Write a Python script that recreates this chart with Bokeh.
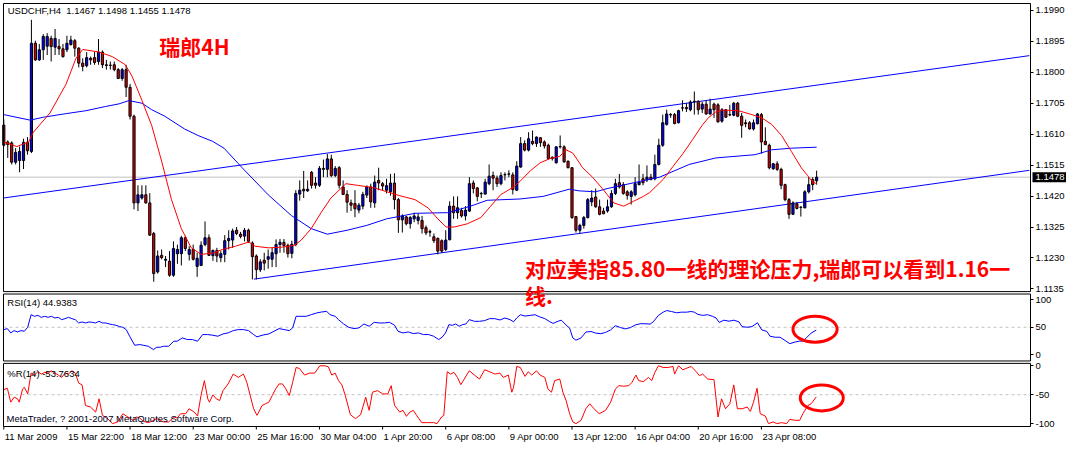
from bokeh.plotting import figure
from bokeh.models import (Range1d, LinearAxis, FixedTicker, Label, ColumnDataSource,
                          BoxAnnotation)
from bokeh.embed import file_html
from bokeh.resources import INLINE

# ---------------- data ----------------
opens = [1.1638,1.1586,1.1583,1.1524,1.1529,1.1529,1.1585,1.1557,1.1889,1.1838,
         1.1869,1.1880,1.1904,1.1877,1.1879,1.1872,1.1869,1.1885,1.1897,1.1874,
         1.1828,1.1820,1.1843,1.1845,1.1833,1.1862,1.1823,1.1822,1.1823,1.1808,
         1.1781,1.1808,1.1754,1.1665,1.1399,1.1414,1.1424,1.1399,1.1305,1.1187,
         1.1238,1.1223,1.1220,1.1177,1.1243,1.1243,1.1292,1.1241,1.1256,1.1204,
         1.1207,1.1271,1.1292,1.1237,1.1253,1.1231,1.1241,1.1283,1.1285,1.1315,
         1.1303,1.1297,1.1315,1.1276,1.1236,1.1194,1.1223,1.1226,1.1226,1.1243,
         1.1271,1.1278,1.1269,1.1244,1.1271,1.1426,1.1441,1.1436,1.1493,1.1460,
         1.1453,1.1505,1.1502,1.1534,1.1483,1.1507,1.1448,1.1425,1.1399,1.1397,
         1.1377,1.1389,1.1423,1.1448,1.1399,1.1468,1.1458,1.1438,1.1433,1.1460,
         1.1409,1.1347,1.1356,1.1335,1.1350,1.1345,1.1345,1.1323,1.1311,1.1295,
         1.1290,1.1283,1.1256,1.1286,1.1389,1.1369,1.1376,1.1359,1.1374,1.1460,
         1.1445,1.1428,1.1426,1.1458,1.1483,1.1475,1.1458,1.1486,1.1488,1.1485,
         1.1438,1.1509,1.1581,1.1561,1.1588,1.1581,1.1599,1.1586,1.1576,1.1539,
         1.1522,1.1572,1.1571,1.1527,1.1507,1.1357,1.1315,1.1330,1.1354,1.1402,
         1.1417,1.1387,1.1374,1.1374,1.1387,1.1428,1.1461,1.1455,1.1433,1.1419,
         1.1424,1.1455,1.1473,1.1470,1.1478,1.1473,1.1517,1.1576,1.1640,1.1670,
         1.1670,1.1645,1.1691,1.1692,1.1685,1.1711,1.1711,1.1687,1.1702,1.1672,
         1.1702,1.1700,1.1650,1.1685,1.1670,1.1668,1.1705,1.1665,1.1645,1.1645,
         1.1626,1.1642,1.1670,1.1588,1.1576,1.1504,1.1519,1.1502,1.1455,1.1409,
         1.1364,1.1396,1.1386,1.1384,1.1433,1.1471,1.1467]
highs = [1.1655,1.1591,1.1588,1.1567,1.1572,1.1596,1.1601,1.1961,1.1897,1.1887,
         1.1917,1.1920,1.1912,1.1933,1.1902,1.1887,1.1912,1.1912,1.1902,1.1877,
         1.1843,1.1862,1.1848,1.1862,1.1902,1.1867,1.1838,1.1833,1.1833,1.1813,
         1.1813,1.1823,1.1764,1.1670,1.1453,1.1453,1.1453,1.1429,1.1310,1.1253,
         1.1256,1.1236,1.1251,1.1281,1.1271,1.1298,1.1298,1.1266,1.1271,1.1246,
         1.1281,1.1342,1.1302,1.1256,1.1261,1.1251,1.1300,1.1315,1.1320,1.1325,
         1.1310,1.1322,1.1320,1.1281,1.1241,1.1226,1.1246,1.1256,1.1261,1.1287,
         1.1288,1.1288,1.1274,1.1283,1.1438,1.1468,1.1497,1.1468,1.1497,1.1478,
         1.1512,1.1532,1.1549,1.1547,1.1512,1.1512,1.1468,1.1438,1.1409,1.1438,
         1.1399,1.1433,1.1453,1.1458,1.1483,1.1507,1.1463,1.1473,1.1488,1.1490,
         1.1414,1.1364,1.1359,1.1359,1.1369,1.1366,1.1359,1.1330,1.1317,1.1305,
         1.1293,1.1287,1.1315,1.1404,1.1419,1.1419,1.1384,1.1389,1.1478,1.1468,
         1.1448,1.1433,1.1473,1.1517,1.1495,1.1483,1.1493,1.1493,1.1499,1.1493,
         1.1527,1.1601,1.1591,1.1616,1.1621,1.1603,1.1601,1.1591,1.1581,1.1542,
         1.1573,1.1606,1.1576,1.1529,1.1509,1.1359,1.1335,1.1359,1.1414,1.1438,
         1.1443,1.1409,1.1384,1.1409,1.1438,1.1473,1.1488,1.1463,1.1438,1.1438,
         1.1478,1.1517,1.1488,1.1514,1.1488,1.1547,1.1596,1.1670,1.1685,1.1675,
         1.1675,1.1685,1.1714,1.1705,1.1714,1.1741,1.1714,1.1709,1.1714,1.1719,
         1.1707,1.1705,1.1690,1.1687,1.1700,1.1709,1.1709,1.1675,1.1655,1.1650,
         1.1655,1.1675,1.1675,1.1631,1.1581,1.1522,1.1527,1.1507,1.1458,1.1414,
         1.1404,1.1402,1.1389,1.1438,1.1478,1.1478,1.1498]
lows = [1.1572,1.1537,1.1517,1.1517,1.1493,1.1503,1.1547,1.1552,1.1835,1.1835,
        1.1838,1.1853,1.1833,1.1853,1.1853,1.1845,1.1862,1.1882,1.1848,1.1815,
        1.1803,1.1815,1.1823,1.1823,1.1823,1.1813,1.1808,1.1808,1.1803,1.1779,
        1.1774,1.1724,1.1655,1.1379,1.1374,1.1409,1.1397,1.1298,1.1157,1.1182,
        1.1226,1.1202,1.1172,1.1172,1.1212,1.1207,1.1251,1.1222,1.1222,1.1172,
        1.1205,1.1266,1.1236,1.1221,1.1217,1.1217,1.1217,1.1256,1.1261,1.1300,
        1.1290,1.1281,1.1276,1.1164,1.1164,1.1187,1.1192,1.1197,1.1202,1.1202,
        1.1246,1.1246,1.1231,1.1229,1.1266,1.1406,1.1414,1.1433,1.1443,1.1443,
        1.1448,1.1478,1.1478,1.1478,1.1478,1.1443,1.1423,1.1369,1.1374,1.1355,
        1.1367,1.1379,1.1414,1.1384,1.1384,1.1438,1.1438,1.1428,1.1421,1.1379,
        1.1307,1.1308,1.1330,1.1320,1.1340,1.1333,1.1305,1.1300,1.1295,1.1276,
        1.1241,1.1246,1.1251,1.1284,1.1350,1.1350,1.1354,1.1345,1.1371,1.1428,
        1.1404,1.1414,1.1425,1.1453,1.1438,1.1448,1.1453,1.1468,1.1478,1.1425,
        1.1436,1.1507,1.1557,1.1557,1.1576,1.1571,1.1571,1.1566,1.1532,1.1529,
        1.1520,1.1566,1.1522,1.1505,1.1350,1.1308,1.1305,1.1320,1.1351,1.1389,
        1.1384,1.1361,1.1364,1.1369,1.1384,1.1423,1.1443,1.1424,1.1409,1.1394,
        1.1419,1.1453,1.1453,1.1463,1.1468,1.1468,1.1514,1.1571,1.1636,1.1660,
        1.1640,1.1643,1.1680,1.1678,1.1680,1.1670,1.1670,1.1675,1.1670,1.1670,
        1.1660,1.1645,1.1645,1.1660,1.1665,1.1665,1.1662,1.1599,1.1631,1.1624,
        1.1621,1.1640,1.1550,1.1576,1.1502,1.1500,1.1497,1.1441,1.1404,1.1350,
        1.1362,1.1379,1.1357,1.1382,1.1428,1.1438,1.1455]
closes = [1.1576,1.1578,1.1524,1.1554,1.1557,1.1585,1.1559,1.1889,1.1838,1.1869,
          1.1910,1.1910,1.1879,1.1904,1.1872,1.1848,1.1889,1.1899,1.1874,1.1828,
          1.1818,1.1845,1.1838,1.1830,1.1862,1.1823,1.1821,1.1821,1.1808,1.1781,
          1.1808,1.1754,1.1665,1.1399,1.1424,1.1424,1.1399,1.1300,1.1182,1.1236,
          1.1231,1.1226,1.1177,1.1259,1.1256,1.1292,1.1259,1.1256,1.1226,1.1229,
          1.1269,1.1292,1.1238,1.1253,1.1236,1.1243,1.1283,1.1290,1.1313,1.1305,
          1.1296,1.1315,1.1281,1.1234,1.1194,1.1218,1.1214,1.1234,1.1246,1.1271,
          1.1278,1.1268,1.1243,1.1272,1.1428,1.1438,1.1436,1.1441,1.1453,1.1453,
          1.1505,1.1502,1.1534,1.1483,1.1505,1.1453,1.1425,1.1401,1.1392,1.1381,
          1.1392,1.1425,1.1448,1.1402,1.1463,1.1460,1.1451,1.1452,1.1460,1.1409,
          1.1347,1.1359,1.1335,1.1354,1.1359,1.1356,1.1320,1.1307,1.1309,1.1283,
          1.1251,1.1251,1.1285,1.1389,1.1369,1.1384,1.1359,1.1377,1.1458,1.1443,
          1.1419,1.1427,1.1463,1.1481,1.1475,1.1458,1.1483,1.1485,1.1487,1.1440,
          1.1512,1.1581,1.1561,1.1596,1.1581,1.1601,1.1584,1.1574,1.1535,1.1535,
          1.1571,1.1571,1.1525,1.1507,1.1354,1.1315,1.1330,1.1354,1.1409,1.1414,
          1.1387,1.1364,1.1366,1.1387,1.1428,1.1458,1.1448,1.1428,1.1422,1.1433,
          1.1458,1.1463,1.1461,1.1478,1.1471,1.1517,1.1576,1.1645,1.1672,1.1669,
          1.1643,1.1682,1.1690,1.1688,1.1709,1.1710,1.1685,1.1702,1.1672,1.1687,
          1.1685,1.1648,1.1685,1.1662,1.1669,1.1705,1.1665,1.1637,1.1642,1.1626,
          1.1645,1.1672,1.1586,1.1578,1.1507,1.1519,1.1502,1.1453,1.1409,1.1364,
          1.1399,1.1382,1.1385,1.1433,1.1455,1.1455,1.1478]

red_ma_bar = [0,3.3,6.3,7.5,11.7,15.8,18.3,20,24.2,27.5,30.8,32.5,35,37.5,40,42.5,45,47.5,50,53,
              55.4,58.7,62.1,63.7,67.1,70.4,73.7,75.4,77.9,80.4,82.9,85.4,86.7,89.6,93.7,97.1,100.4,104.2,107.5,110,
              112.1,114.2,117.5,120.9,123.4,125.9,129.2,130.9,133.4,135.9,138.4,140.9,142.5,144.2,146.7,149.2,151.7,154.6,157.1,159.6,
              162.1,163.7,167.1,169.6,172.1,174.6,177.1,178.7,180.4,182.1,186.2,189.6,192.1,194.6,197.1,199.6,202.1,203.7,205,206]
red_ma = [1.1586,1.1572,1.1586,1.1616,1.1675,1.1764,1.1843,1.1870,1.1862,1.1848,1.1823,1.1788,1.1714,1.1636,1.1527,1.1409,1.1320,1.1261,1.1241,1.1245,
          1.1256,1.1266,1.1279,1.1266,1.1261,1.1263,1.1269,1.1285,1.1320,1.1369,1.1414,1.1443,1.1458,1.1453,1.1446,1.1433,1.1421,1.1409,1.1384,1.1350,
          1.1325,1.1325,1.1335,1.1354,1.1389,1.1424,1.1448,1.1466,1.1497,1.1522,1.1535,1.1542,1.1562,1.1552,1.1507,1.1478,1.1443,1.1399,1.1389,1.1404,
          1.1419,1.1431,1.1471,1.1511,1.1550,1.1594,1.1639,1.1662,1.1678,1.1684,1.1682,1.1670,1.1660,1.1640,1.1606,1.1557,1.1507,1.1483,1.1463,1.1458]

blue_ma_bar = [0,6.7,10,15.8,20.8,25.8,29.2,31.7,35,37.5,40.8,45.8,49.2,52.9,55.8,60.4,67,72.9,77.9,82,
               87,92,97,100.4,104.2,112.5,118.3,122.5,130.8,136.7,143.3,145.8,150,152.9,166.2,173.7,180.4,190.4,194.6,199.6,206]
blue_ma = [1.1670,1.1653,1.1662,1.1673,1.1682,1.1695,1.1703,1.1713,1.1705,1.1685,1.1665,1.1626,1.1606,1.1588,1.1567,1.1507,1.1424,1.1360,1.1320,1.1303,
           1.1315,1.1330,1.1350,1.1358,1.1367,1.1369,1.1389,1.1407,1.1411,1.1419,1.1441,1.1436,1.1433,1.1443,1.1478,1.1517,1.1537,1.1547,1.1562,1.1567,1.1570]

rsi_bar = [0.04,0.9,1.76,2.62,3.48,4.34,5.2,6.06,6.92,7.78,8.64,9.5,10.37,11.23,12.09,12.95,13.81,14.67,15.53,16.39,
           17.25,18.11,18.97,19.84,20.7,21.56,22.42,23.28,24.14,25.0,25.86,26.72,27.58,28.44,29.3,30.17,31.03,31.89,33.18,34.47,
           35.33,36.62,37.91,38.77,39.64,40.5,41.79,43.08,43.94,45.23,46.52,47.81,49.11,50.4,51.69,52.98,54.27,55.56,56.85,58.14,
           59.44,60.73,62.02,63.31,64.17,65.46,67.18,68.47,69.77,71.06,72.35,73.21,74.07,75.36,76.65,77.94,79.24,80.53,81.82,82.68,
           83.97,84.83,86.12,87.42,88.71,90.0,91.29,92.58,93.87,95.16,96.45,97.75,99.04,99.9,101.19,102.48,103.77,105.06,106.35,107.65,
           108.94,110.23,111.09,111.95,112.81,113.67,114.53,115.4,116.26,117.12,117.98,119.27,120.56,121.85,123.14,124.43,125.73,127.02,128.31,
           129.2,130,130.9,132.1,133.4,134.6,135.9,137.1,138.4,139.2,140.5,141.3,142.5,143.4,144.2,145.0,146.3,147.5,148.8,150.0,
           151.3,152.5,153.8,155.0,156.3,157.5,158.8,160.0,161.3,162.5,163.8,164.6,165.9,167.1,168.0,169.2,170.5,171.7,173.0,174.2,
           175.0,175.9,177.1,178.4,179.6,180.5,181.3,182.5,183.8,185.0,186.3,187.1,188.4,189.6,191.0,192.1,193.4,194.2,195.5,196.7,
           198.0,199.2,200.5,201.7,202.5,203.4,204.6,205.9]
rsi = [45.8,47.6,39.8,44.0,41.6,44.0,42.8,50.0,72.8,69.8,71.6,68.0,69.8,68.0,69.8,66.8,68.0,63.8,65.6,68.0,
       65.6,63.8,57.8,59.6,57.8,59.6,59.0,57.8,60.8,57.8,57.8,56.0,54.8,53.6,51.2,50.0,45.8,33.8,17.5,18.8,
       17.5,15.7,9.7,13.9,13.9,15.7,15.7,24.8,24.8,30.8,27.8,27.8,24.8,36.8,36.8,35.6,33.8,38.0,39.8,44.0,
       45.8,45.8,44.0,36.8,32.6,35.6,38.0,42.8,47.6,45.8,44.0,48.8,69.8,69.8,69.8,72.8,75.8,77.6,78.8,72.8,
       69.8,63.8,56.0,50.0,47.6,48.8,56.0,51.8,59.0,57.8,57.8,59.0,53.6,42.8,39.8,41.6,38.6,39.8,36.8,36.8,
       33.8,27.8,32.0,39.8,54.8,53.6,56.0,51.8,54.8,56.0,63.8,60.8,60.8,62.0,65.6,65.6,63.2,66.8,63.8,
       59.9,66.9,72.7,70.3,71.5,72.7,68.6,65.7,59.9,57.0,61.0,62.8,54.1,48.3,30.8,26.7,30.8,41.3,42.4,39.5,
       38.4,40.7,45.3,52.9,49.4,47.1,49.4,54.1,56.4,56.4,55.8,59.9,71.5,77.3,80.2,78.5,76.2,77.3,77.3,78.5,
       77.3,73.3,71.5,72.7,69.8,66.9,58.7,62.8,61.0,62.8,59.9,51.2,50.0,51.2,58.1,45.3,42.4,33.7,32.0,32.0,
       26.2,20.3,23.3,25.0,25.0,30.8,39.5,44.9]

wpr_bar = [0.04,0.9,1.76,2.62,3.48,3.91,4.77,5.2,6.06,6.92,7.78,8.64,9.5,10.37,11.23,12.09,12.95,13.81,14.67,15.53,
           16.39,17.25,18.11,18.97,19.84,20.7,22.0,23.28,24.14,25.0,26.29,27.58,28.87,30.17,31.46,32.75,33.61,34.47,35.33,36.62,
           37.48,38.77,39.64,40.5,41.79,43.08,43.94,44.8,46.09,46.95,48.24,49.11,49.97,50.83,51.69,52.12,52.98,53.84,54.7,55.56,
           56.85,58.14,59.44,60.73,61.59,62.45,63.31,64.17,65.46,66.32,67.18,68.04,68.91,69.77,70.63,71.49,72.35,73.21,74.07,74.93,
           76.22,77.51,78.8,80.1,81.39,82.25,83.11,83.97,84.83,85.69,86.55,87.84,89.14,90.43,91.72,92.58,93.44,94.73,96.02,97.32,
           98.18,99.04,100.33,101.19,102.05,102.91,103.77,104.63,105.92,107.65,108.94,109.8,110.92,111.52,112.38,113.24,114.1,114.96,115.83,116.69,
           117.98,119.27,120.56,121.85,123.14,124.43,125.73,126.59,127.88,128.74,
           129.2,130,130.9,132.1,132.9,133.8,135,135.9,137.1,137.9,138.8,139.6,140.9,141.7,142.5,143.4,144.2,145.0,146.3,147.5,
           148.5,149.6,150.9,152.5,153.8,155.0,155.9,157.1,158.4,159.2,160.2,160.9,162.1,163.4,164.2,165.0,165.9,167.1,168.4,169.6,
           170.0,171.0,172.1,172.9,174.2,175.5,176.3,177.1,178.4,180.0,181.0,181.9,182.9,184.0,185.0,185.9,187.1,188.4,189.2,190.0,
           190.9,191.7,193.0,193.8,195.0,195.9,197.1,198.4,199.2,200.5,201.7,202.5,203.8,204.6,205.9]
wpr = [-41.1,-38.9,-62.9,-54.3,-57.1,-62.9,-40.0,-37.1,-48.6,-12.6,-16.0,-10.3,-14.3,-11.4,-12.6,-8.6,-12.6,-16.0,-20.0,-12.6,
       -14.3,-8.6,-12.6,-29.7,-33.1,-68.6,-71.4,-80.0,-57.1,-85.7,-91.4,-100,-97.1,-82.9,-88.6,-94.3,-88.6,-90.3,-96.0,-98.3,
       -96.0,-91.4,-94.3,-97.1,-97.1,-88.6,-90.3,-82.9,-82.9,-74.3,-80.0,-86.9,-51.4,-25.7,-57.1,-62.9,-50.3,-57.1,-60.0,-42.9,
       -31.4,-14.3,-20.0,-14.3,-28.6,-51.4,-74.3,-85.7,-68.6,-65.7,-62.9,-51.4,-40.0,-31.4,-31.4,-40.0,-51.4,-28.6,-2.9,-4.6,
       -16.0,-12.6,-12.6,0,0,-1.7,-16.0,-12.6,-25.7,-33.1,-51.4,-84.6,-91.4,-84.6,-54.3,-77.1,-45.7,-42.9,-48.6,-48.6,
       -34.3,-68.6,-80.0,-77.1,-87.4,-80.0,-77.1,-85.7,-98.3,-98.3,-98.3,-100,-88.6,-85.7,-10.3,-14.3,-11.4,-20.0,-32.6,-22.9,
       -8.6,-16.0,-22.9,-6.9,-10.3,-14.3,-12.6,-20.0,-16.0,-45.7,
       -37.1,-1.1,-2.9,-18.3,-10.3,-16.0,-8.6,-16.0,-20.0,-40.0,-45.7,-25.7,-22.9,-45.7,-60.0,-82.9,-97.1,-100,-94.3,-74.3,
       -65.7,-74.3,-82.9,-77.1,-62.9,-40.0,-34.3,-35.4,-34.3,-28.6,-16.0,-25.7,-27.4,-20.0,-25.7,-11.4,0,-2.9,-2.9,-1.1,
       -14.3,0,-6.9,-4.6,-1.1,-10.3,-17.1,-14.3,-22.9,-24.0,-88.6,-57.1,-74.3,-65.7,-33.1,-74.3,-74.3,-71.4,-78.9,-62.9,
       -38.9,-82.9,-86.9,-100,-97.1,-100,-98.3,-100,-92.6,-94.3,-94.3,-82.9,-68.6,-65.7,-53.8]

channel_upper_bar = [-0.1, 259.9]
channel_upper = [1.1414, 1.1851]
channel_lower_bar = [63.4, 259.9]
channel_lower = [1.1165, 1.1499]

time_label_bars = [0, 16, 32, 48, 64, 80, 96, 112, 128, 144, 160, 176, 192]
time_labels = ["11 Mar 2009", "15 Mar 22:00", "18 Mar 12:00", "23 Mar 00:00", "25 Mar 16:00",
               "30 Mar 04:00", "1 Apr 20:00", "6 Apr 08:00", "9 Apr 00:00", "13 Apr 12:00",
               "16 Apr 04:00", "20 Apr 16:00", "23 Apr 08:00"]
price_ticks = [1.1135, 1.1230, 1.1325, 1.1420, 1.1515, 1.1610, 1.1705, 1.1800, 1.1895, 1.1990]
rsi_ticks = [100, 50, 0]
wpr_ticks = [0, -50, -100]
last_price = 1.1478
rsi_last = 44.9383
wpr_last = -53.7634

highlight_bar = [205.6, 207.3]
highlight_rsi = 46.5
highlight_wpr = -55.5

# ---------------- layout of the chart area ----------------
W, H = 1066, 443
PAD_L, PAD_R, PAD_T, PAD_B = 3, 36, 3, 17          # scale / label margins (px)
CW, CH = W - PAD_L - PAD_R, H - PAD_T - PAD_B      # chart area (px)

BAR_LO, BAR_HI = -0.075, 260.2
PRICE_LO, PRICE_HI = 1.07126, 1.20111
RSI_LO, RSI_HI = -129.4, 635.4
WPR_LO, WPR_HI = -105.0, 626.7


def extend(lo, hi, size, pad_lo, pad_hi):
    per = (hi - lo) / size
    return lo - pad_lo * per, hi + pad_hi * per


XR = extend(BAR_LO, BAR_HI, CW, PAD_L, PAD_R)
YR = extend(PRICE_LO, PRICE_HI, CH, PAD_B, PAD_T)
RR = extend(RSI_LO, RSI_HI, CH, PAD_B, PAD_T)
WR = extend(WPR_LO, WPR_HI, CH, PAD_B, PAD_T)
PRICE_PER_PX = (PRICE_HI - PRICE_LO) / CH
BAR_PER_PX = (BAR_HI - BAR_LO) / CW


def to_price(v, lo, hi):
    return PRICE_LO + (v - lo) / (hi - lo) * (PRICE_HI - PRICE_LO)


def frac_to_price(f):
    return PRICE_HI - f * (PRICE_HI - PRICE_LO)


FONT = "Liberation Sans"
FS = "9.5px"

p = figure(width=W, height=H, output_backend="svg", toolbar_location=None,
           x_range=Range1d(*XR), y_range=Range1d(*YR),
           x_axis_location=None, y_axis_location=None, min_border=0)
p.extra_y_ranges = {"rsi": Range1d(*RR), "wpr": Range1d(*WR)}
p.background_fill_color = "white"
p.border_fill_color = "white"
p.outline_line_color = None
p.xgrid.visible = False
p.ygrid.visible = False

# panel frames (main / RSI / %R) with the double separators between them
seps = [frac_to_price(f) for f in (0.6811, 0.6868, 0.8451, 0.8508)]
for top, bottom in ((PRICE_HI, seps[0]), (seps[1], seps[2]), (seps[3], PRICE_LO)):
    p.add_layout(BoxAnnotation(left=BAR_LO, right=BAR_HI, top=top, bottom=bottom,
                               fill_color=None, line_color="black", line_alpha=1.0, line_width=1))

# price scale on the right (also carries the RSI / %R scales)
tick_map = {}
for t in price_ticks:
    tick_map[t] = "%.4f" % t
for t in rsi_ticks:
    tick_map[to_price(t, RSI_LO, RSI_HI)] = str(t)
for t in wpr_ticks:
    tick_map[to_price(t, WPR_LO, WPR_HI)] = str(t)
yax = LinearAxis(fixed_location=BAR_HI, ticker=FixedTicker(ticks=list(tick_map.keys())),
                 major_label_overrides=tick_map, axis_line_color=None,
                 major_tick_line_color="black", major_tick_in=0, major_tick_out=3,
                 minor_tick_out=0, minor_tick_in=0, major_label_standoff=2,
                 major_label_text_font=FONT, major_label_text_font_size=FS,
                 major_label_text_color="black")
p.add_layout(yax, "right")

# time scale: tick marks + left-aligned labels
n_t = len(time_label_bars)
p.segment(x0=time_label_bars, x1=time_label_bars, y0=[PRICE_LO] * n_t,
          y1=[PRICE_LO - 3 * PRICE_PER_PX] * n_t, line_color="black", line_width=1)
for b, s in zip(time_label_bars, time_labels):
    p.add_layout(Label(x=b, y=PRICE_LO, y_offset=-4, text=s, x_offset=1,
                       text_font=FONT, text_font_size=FS, text_color="black",
                       text_baseline="top", text_align="left"))

# level lines
p.line([BAR_LO, BAR_HI], [last_price, last_price], line_color="#c0c0c0", line_width=1)
p.line([BAR_LO, BAR_HI], [50, 50], y_range_name="rsi", line_color="#c0c0c0",
       line_width=1, line_dash="3 3")
p.line([BAR_LO, BAR_HI], [-50, -50], y_range_name="wpr", line_color="#c0c0c0",
       line_width=1, line_dash="3 3")

# channel
p.line(channel_upper_bar, channel_upper, line_color="#0000ff", line_width=1)
p.line(channel_lower_bar, channel_lower, line_color="#0000ff", line_width=1)

# candles
bars = list(range(len(opens)))
src = ColumnDataSource(dict(
    x=bars, h=highs, l=lows,
    top=[max(o, c) for o, c in zip(opens, closes)],
    bot=[min(o, c) for o, c in zip(opens, closes)],
    color=["#0000ff" if c >= o else "#e00000" for o, c in zip(opens, closes)]))
p.segment(x0="x", y0="l", x1="x", y1="h", source=src, line_color="black", line_width=1)
p.vbar(x="x", width=0.55, top="top", bottom="bot", fill_color="color",
       line_color="black", line_width=1, source=src)

# moving averages
p.line(blue_ma_bar, blue_ma, line_color="#0000ff", line_width=1)
p.line(red_ma_bar, red_ma, line_color="#ff0000", line_width=1)

# indicators
p.line(rsi_bar, rsi, y_range_name="rsi", line_color="#0000ff", line_width=1)
p.line(wpr_bar, wpr, y_range_name="wpr", line_color="#ff0000", line_width=1)

# hand-drawn highlight circles
p.ellipse(x=[highlight_bar[0]], y=[highlight_rsi], width=11.2, height=47, y_range_name="rsi",
          fill_color=None, line_color="#ff0000", line_width=3)
p.ellipse(x=[highlight_bar[1]], y=[highlight_wpr], width=10.9, height=45, y_range_name="wpr",
          fill_color=None, line_color="#ff0000", line_width=3)

# texts
p.add_layout(Label(x=1.0, y=1.19889, text="USDCHF,H4\u00a0\u00a01.1467 1.1498 1.1455 1.1478",
                   text_font=FONT, text_font_size=FS, text_color="black", text_baseline="middle"))
p.add_layout(Label(x=0.9, y=1.10933, text="RSI(14) %.4f" % rsi_last,
                   text_font=FONT, text_font_size=FS, text_color="black", text_baseline="middle"))
p.add_layout(Label(x=0.9, y=1.08762, text="%%R(14) %.4f" % wpr_last,
                   text_font=FONT, text_font_size=FS, text_color="black", text_baseline="middle"))
p.add_layout(Label(x=0.7, y=1.07362, text="MetaTrader, ? 2001-2007 MetaQuotes Software Corp.",
                   text_font=FONT, text_font_size=FS, text_color="#000020", text_baseline="middle"))

CJK = "Noto Sans CJK SC"
p.add_layout(Label(x=39.4, y=1.18810, text="瑞郎4H", text_font=CJK, text_font_style="bold",
                   text_font_size="21px", text_color="#ff0000", text_baseline="middle"))
p.add_layout(Label(x=132.1, y=1.11977, text="对应美指85.80一线的理论压力,瑞郎可以看到1.16一",
                   text_font=CJK, text_font_style="bold", text_font_size="21px",
                   text_color="#ff0000", text_baseline="middle"))
p.add_layout(Label(x=132.1, y=1.11178, text="线.", text_font=CJK, text_font_style="bold",
                   text_font_size="21px", text_color="#ff0000", text_baseline="middle"))

# current price box on the scale
p.add_layout(BoxAnnotation(left=BAR_HI + 2 * BAR_PER_PX, right=XR[1],
                           bottom=last_price - 5 * PRICE_PER_PX, top=last_price + 5 * PRICE_PER_PX,
                           fill_color="black", fill_alpha=1.0, line_color=None))
p.add_layout(Label(x=BAR_HI, y=last_price, text="%.4f" % last_price, x_offset=5,
                   text_font=FONT, text_font_size=FS, text_color="white",
                   text_baseline="middle"))

open("out.html", "w").write(file_html(p, INLINE))
